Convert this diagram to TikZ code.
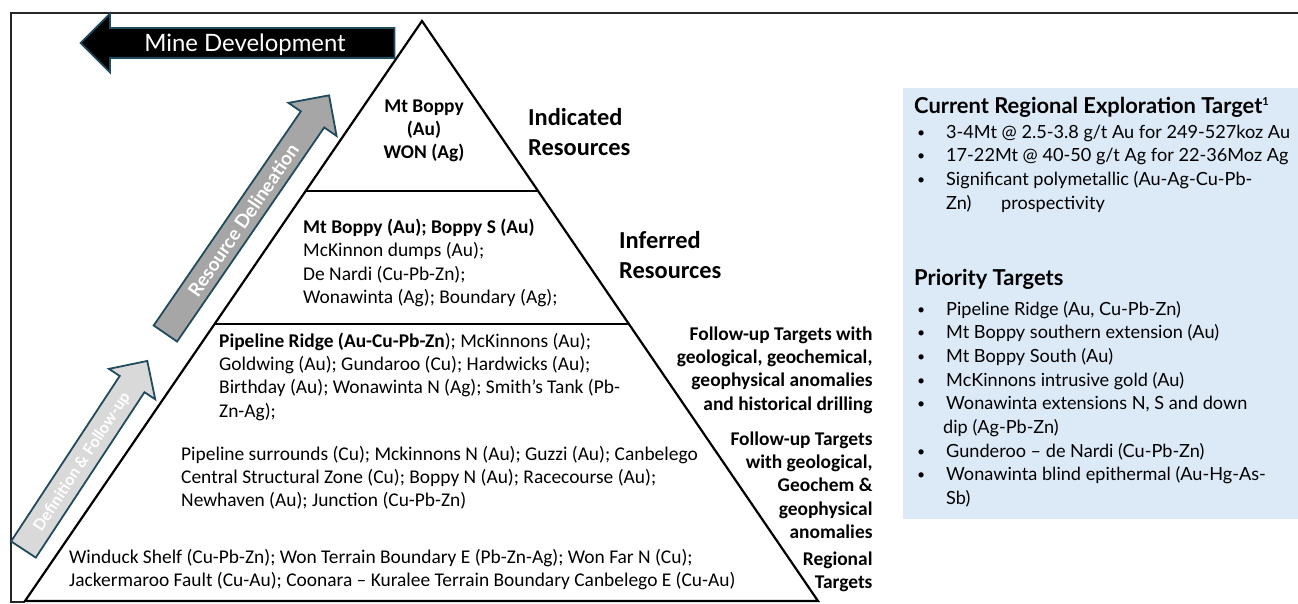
\documentclass[tikz,border=0pt]{standalone}
\usepackage{fontspec}
\setmainfont{Carlito}
\newfontfamily\aptos{Lato}
\usepackage{tikz}
\usetikzlibrary{shapes.arrows,calc}

\definecolor{arrowline}{RGB}{32,75,92}
\definecolor{resgray}{RGB}{166,166,166}
\definecolor{defgray}{RGB}{217,217,217}
\definecolor{boxblue}{RGB}{220,233,246}

\newcommand\blt{\makebox[29bp][l]{\raisebox{1bp}{\fontsize{14}{14}\selectfont\textbullet}}}

\begin{document}
\begin{tikzpicture}[x=1bp,y=-1bp,line join=miter]

   \tikzstyle{tier}=[font=\fontsize{19.5}{23.5}\selectfont,align=left,anchor=north west,inner sep=0pt]
   \tikzstyle{goal}=[font=\bfseries\fontsize{19.5}{23.5}\selectfont,align=right,anchor=north east,inner sep=0pt]
   \tikzstyle{level}=[font=\bfseries\fontsize{24.5}{30}\selectfont,align=left,anchor=north west,inner sep=0pt]
   \tikzstyle{bigarrow}=[single arrow,draw=arrowline,line width=1.8bp,inner xsep=0pt,inner ysep=0pt,text=white]
   \tikzstyle{boxtext}=[font=\aptos\fontsize{18.2}{23.75}\selectfont,align=left,anchor=north west,inner sep=0pt]
   \tikzstyle{boxhead}=[font=\aptos\bfseries\fontsize{22}{24}\selectfont,anchor=base west,inner sep=0pt]

   \useasboundingbox (0,0) rectangle (1298,604);

   % outer frame
   \draw[line width=1.5bp,black!85] (1298,13) -- (11,13) -- (11,602) -- (25,602);

   % pyramid and its tiers
   \coordinate (apex) at (422,21);
   \coordinate (bl) at (25,601);
   \coordinate (br) at (818,601);
   \draw[line width=2.2bp] (apex) -- (bl) -- (br) -- cycle;

   \coordinate (cut1l) at ($(apex)!0.2931!(bl)$);
   \coordinate (cut1r) at ($(apex)!0.2931!(br)$);
   \coordinate (cut2l) at ($(apex)!0.5224!(bl)$);
   \coordinate (cut2r) at ($(apex)!0.5224!(br)$);
   \draw[line width=1.3bp] (cut1l) -- (cut1r);
   \draw[line width=1.3bp] (cut2l) -- (cut2r);

   % block arrows
   \node[bigarrow,fill=black,shape border rotate=180,minimum height=314bp,
     single arrow head extend=14.5bp,text height=22.5bp,text depth=5.5bp,
     font=\aptos\fontsize{24}{28}\selectfont] (mine) at (245,43) {Mine Development};

   \node[bigarrow,fill=resgray,rotate=55.5,minimum height=289bp,
     single arrow head extend=15bp,text height=20.3bp,text depth=6.3bp,
     font=\aptos\bfseries\fontsize{19}{22}\selectfont] (delin) at (243.2,220.3) {Resource Delineation};

   \node[bigarrow,fill=defgray,rotate=56.7,minimum height=225.6bp,
     single arrow head extend=12.9bp,text height=19.6bp,text depth=8.2bp,
     font=\aptos\bfseries\fontsize{16}{19}\selectfont] (follow) at (81.3,461.4) {Definition \& Follow-up};

   % tier contents
   \node[tier,align=center,anchor=north,font=\bfseries\fontsize{19.5}{23.5}\selectfont] (indtier) at (424,95.5)
     {\strut Mt Boppy\\(Au)\\WON (Ag)};

   \node[tier] (inftier) at (303,216.9)
     {\strut\textbf{Mt Boppy (Au); Boppy S (Au)}\\
      McKinnon dumps (Au);\\
      De Nardi (Cu-Pb-Zn);\\
      Wonawinta (Ag); Boundary (Ag);};

   \node[tier] (drilltier) at (219,330.5)
     {\strut\textbf{Pipeline Ridge (Au-Cu-Pb-Zn}); McKinnons (Au);\\
      Goldwing (Au); Gundaroo (Cu); Hardwicks (Au);\\
      Birthday (Au); Wonawinta N (Ag); Smith’s Tank (Pb-\\
      Zn-Ag);};

   \node[tier] (anomtier) at (181,443.5)
     {\strut Pipeline surrounds (Cu); Mckinnons N (Au); Guzzi (Au); Canbelego\\
      Central Structural Zone (Cu); Boppy N (Au); Racecourse (Au);\\
      Newhaven (Au); Junction (Cu-Pb-Zn)};

   \node[tier] (regtier) at (69,546.5)
     {\strut Winduck Shelf (Cu-Pb-Zn); Won Terrain Boundary E (Pb-Zn-Ag); Won Far N (Cu);\\
      Jackermaroo Fault (Cu-Au); Coonara – Kuralee Terrain Boundary Canbelego E (Cu-Au)};

   % tier labels
   \node[level] (indicated) at (528,104) {\strut Indicated\\Resources};
   \node[level] (inferred) at (619,227) {\strut Inferred\\Resources};

   \node[goal] (drillgoal) at (872.7,323.5)
     {\strut Follow-up Targets with\\geological, geochemical,\\geophysical anomalies\\and historical drilling};
   \node[goal] (anomgoal) at (872.7,428.5)
     {\strut Follow-up Targets\\with geological,\\Geochem \&\\geophysical\\anomalies};
   \node[goal] (reggoal) at (872.7,548.5) {\strut Regional\\Targets};

   % target panel
   \fill[boxblue] (903,88) rectangle (1298,519);

   \node[boxhead] (curhead) at (914,114)
     {Current Regional Exploration Target\raisebox{8bp}{\fontsize{11}{11}\selectfont 1}};
   \node[boxtext] (curlist) at (917,121.3)
     {\strut\blt 3-4Mt @ 2.5-3.8 g/t Au for 249-527koz Au\\
      \blt 17-22Mt @ 40-50 g/t Ag for 22-36Moz Ag\\
      \blt Significant polymetallic (Au-Ag-Cu-Pb-\\
      \hspace*{29bp}\makebox[55bp][l]{Zn)}prospectivity};

   \node[boxhead] (prihead) at (914,286) {Priority Targets};
   \node[boxtext] (prilist) at (917,298.3)
     {\strut\blt Pipeline Ridge (Au, Cu-Pb-Zn)\\
      \blt Mt Boppy southern extension (Au)\\
      \blt Mt Boppy South (Au)\\
      \blt McKinnons intrusive gold (Au)\\
      \blt Wonawinta extensions N, S and down\\
      \hspace*{26bp}dip (Ag-Pb-Zn)\\
      \blt Gunderoo – de Nardi (Cu-Pb-Zn)\\
      \blt Wonawinta blind epithermal (Au-Hg-As-\\
      \hspace*{29bp}Sb)};

\end{tikzpicture}
\end{document}
